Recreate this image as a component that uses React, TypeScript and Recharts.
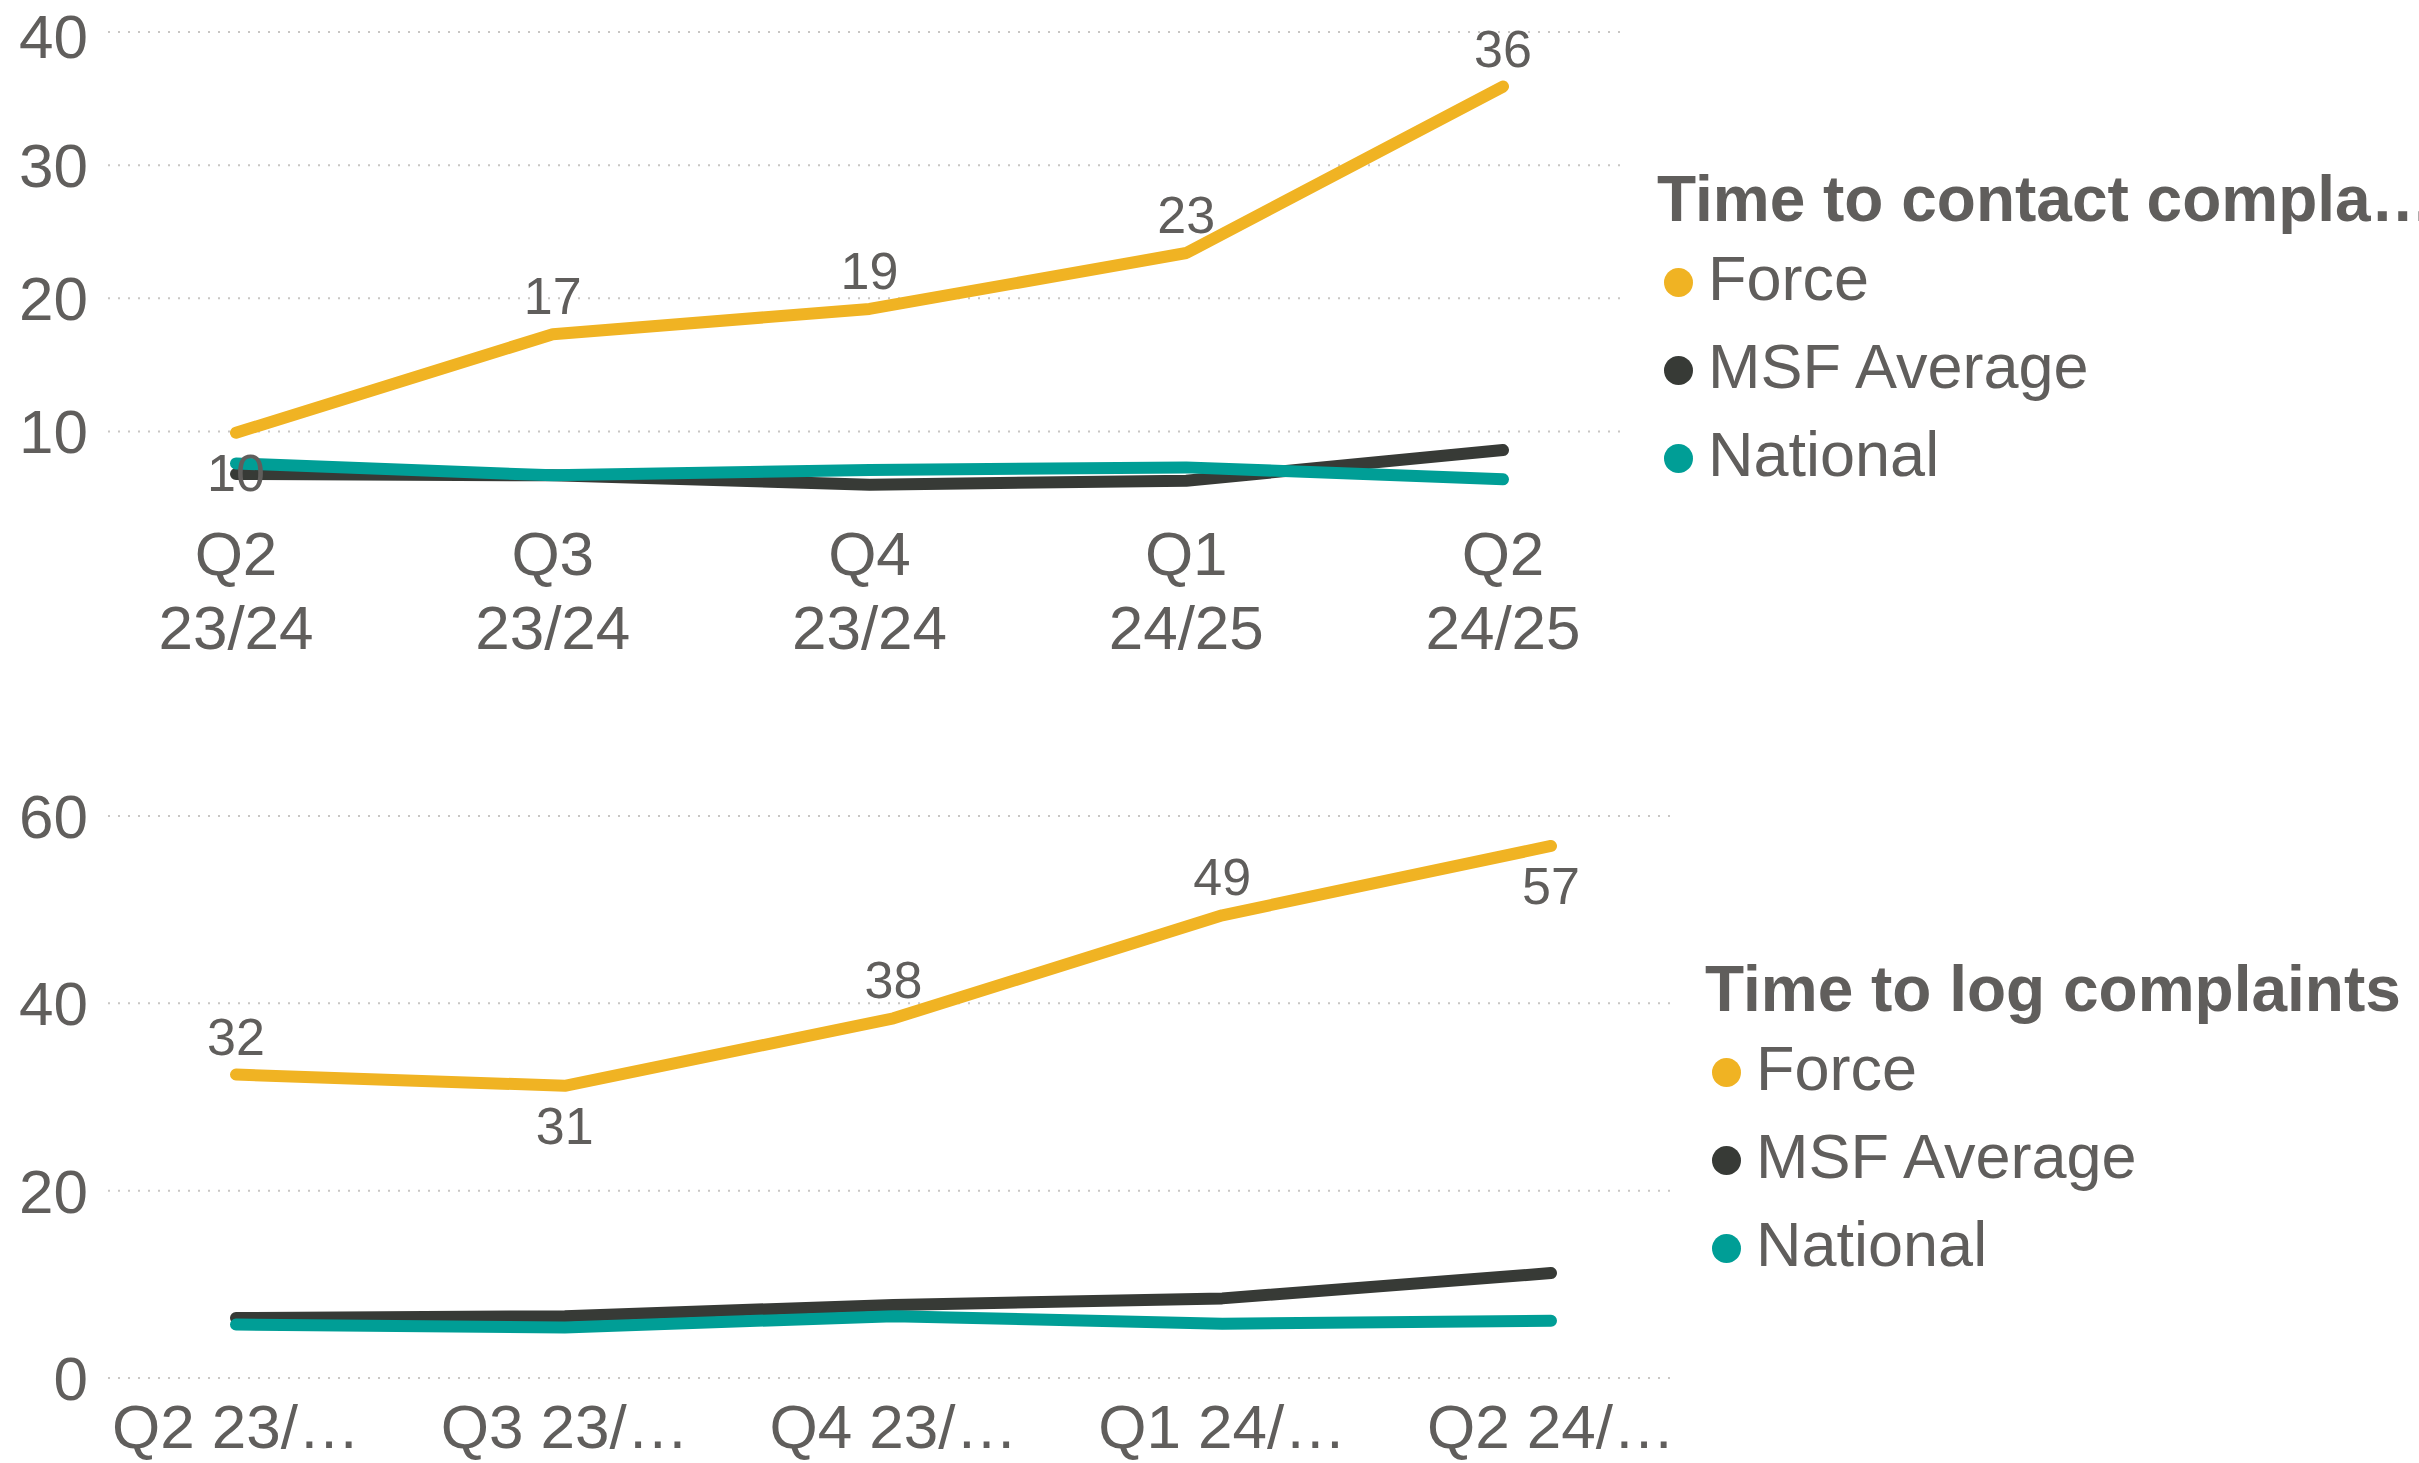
import { LineChart, Line, XAxis, YAxis, CartesianGrid, LabelList } from 'recharts';

const quarters = ['Q2 23/24', 'Q3 23/24', 'Q4 23/24', 'Q1 24/25', 'Q2 24/25'];
const seriesNames = ['Force', 'MSF Average', 'National'];

// Time to contact complainants (days)
const contactForce = [9.9, 17.3, 19.2, 23.4, 35.9];
const contactMsf = [6.8, 6.7, 6.0, 6.3, 8.6];
const contactNational = [7.6, 6.7, 7.1, 7.3, 6.4];
const contactTicks = [10, 20, 30, 40];

// Time to log complaints (days)
const logForce = [32.4, 31.2, 38.4, 49.4, 56.8];
const logMsf = [6.4, 6.6, 7.8, 8.5, 11.2];
const logNational = [5.7, 5.4, 6.6, 5.8, 6.1];
const logTicks = [0, 20, 40, 60];

// where each Force data label sits relative to its point
const contactLabelSide = ['below', 'above', 'above', 'above', 'above'];
const logLabelSide = ['above', 'below', 'above', 'above', 'below'];

const COLORS = { force: '#F0B323', msf: '#373A36', national: '#009E96' };
const TEXT = '#605E5C';
const FONT = '"Liberation Sans", Arial, sans-serif';

const contactData = quarters.map((q, i) => ({
  quarter: q,
  force: contactForce[i],
  msf: contactMsf[i],
  national: contactNational[i],
}));

const logData = quarters.map((q, i) => ({
  quarter: q,
  force: logForce[i],
  msf: logMsf[i],
  national: logNational[i],
}));

const makeLabel = (sides: string[]) => (props: any) => {
  const { x, y, value, index } = props;
  const dy = sides[index] === 'below' ? 40 : -38;
  return (
    <text
      x={x}
      y={y + dy}
      textAnchor="middle"
      dominantBaseline="central"
      fontSize={52}
      fontFamily={FONT}
      fill={TEXT}
    >
      {Math.round(value)}
    </text>
  );
};

const TwoLineTick = (props: any) => {
  const { x, y, payload } = props;
  const [q, yr] = String(payload.value).split(' ');
  return (
    <g>
      <text x={x} y={y + 69} textAnchor="middle" fontSize={62} fontFamily={FONT} fill={TEXT}>
        {q}
      </text>
      <text x={x} y={y + 143} textAnchor="middle" fontSize={62} fontFamily={FONT} fill={TEXT}>
        {yr}
      </text>
    </g>
  );
};

const TruncTick = (props: any) => {
  const { x, y, payload } = props;
  const label = String(payload.value);
  return (
    <text x={x} y={y + 62} textAnchor="middle" fontSize={62} fontFamily={FONT} fill={TEXT}>
      {label.slice(0, 6) + '…'}
    </text>
  );
};

function LegendBlock({ title, left, top }: { title: string; left: number; top: number }) {
  const colors = [COLORS.force, COLORS.msf, COLORS.national];
  return (
    <div style={{ position: 'absolute', left, top, fontFamily: FONT, color: TEXT, whiteSpace: 'nowrap' }}>
      <div style={{ fontSize: 64, fontWeight: 700, lineHeight: '78px', height: 74 }}>{title}</div>
      {seriesNames.map((name, i) => (
        <div key={name} style={{ display: 'flex', alignItems: 'center', height: 88, fontSize: 63 }}>
          <span
            style={{
              display: 'inline-block',
              width: 29,
              height: 29,
              borderRadius: '50%',
              background: colors[i],
              marginLeft: 7,
              marginRight: 15,
              marginTop: 8,
            }}
          />
          <span>{name}</span>
        </div>
      ))}
    </div>
  );
}

export default function App() {
  return (
    <div
      style={{
        position: 'absolute',
        left: 0,
        top: 0,
        width: 2419,
        height: 1463,
        background: '#fff',
        overflow: 'hidden',
      }}
    >
      <div style={{ position: 'absolute', left: 0, top: 0 }}>
        <LineChart width={1640} height={680} data={contactData} margin={{ top: 32, right: 18, bottom: 0, left: 0 }}>
          <CartesianGrid
            vertical={false}
            horizontalValues={contactTicks}
            stroke="#C8C6C4"
            strokeWidth={2}
            strokeDasharray="2 8"
          />
          <XAxis
            dataKey="quarter"
            axisLine={false}
            tickLine={false}
            height={182}
            padding={{ left: 128, right: 119 }}
            tick={<TwoLineTick />}
            interval={0}
          />
          <YAxis
            domain={[5, 40]}
            ticks={contactTicks}
            axisLine={false}
            tickLine={false}
            width={108}
            tickSize={0}
            tickMargin={20}
            tick={{ fontSize: 62, fill: TEXT, fontFamily: FONT }}
          />
          <Line dataKey="msf" stroke={COLORS.msf} strokeWidth={12} dot={false} strokeLinecap="round" strokeLinejoin="round" isAnimationActive={false} />
          <Line dataKey="national" stroke={COLORS.national} strokeWidth={12} dot={false} strokeLinecap="round" strokeLinejoin="round" isAnimationActive={false} />
          <Line dataKey="force" stroke={COLORS.force} strokeWidth={12} dot={false} strokeLinecap="round" strokeLinejoin="round" isAnimationActive={false}>
            <LabelList dataKey="force" content={makeLabel(contactLabelSide)} />
          </Line>
        </LineChart>
      </div>
      <LegendBlock title="Time to contact compla…" left={1657} top={160} />

      <div style={{ position: 'absolute', left: 0, top: 760 }}>
        <LineChart width={1690} height={703} data={logData} margin={{ top: 56, right: 18, bottom: 0, left: 0 }}>
          <CartesianGrid
            vertical={false}
            horizontalValues={logTicks}
            stroke="#C8C6C4"
            strokeWidth={2}
            strokeDasharray="2 8"
          />
          <XAxis
            dataKey="quarter"
            axisLine={false}
            tickLine={false}
            height={85}
            padding={{ left: 128, right: 121 }}
            tick={<TruncTick />}
            interval={0}
          />
          <YAxis
            domain={[0, 60]}
            ticks={logTicks}
            axisLine={false}
            tickLine={false}
            width={108}
            tickSize={0}
            tickMargin={20}
            tick={{ fontSize: 62, fill: TEXT, fontFamily: FONT }}
          />
          <Line dataKey="msf" stroke={COLORS.msf} strokeWidth={12} dot={false} strokeLinecap="round" strokeLinejoin="round" isAnimationActive={false} />
          <Line dataKey="national" stroke={COLORS.national} strokeWidth={12} dot={false} strokeLinecap="round" strokeLinejoin="round" isAnimationActive={false} />
          <Line dataKey="force" stroke={COLORS.force} strokeWidth={12} dot={false} strokeLinecap="round" strokeLinejoin="round" isAnimationActive={false}>
            <LabelList dataKey="force" content={makeLabel(logLabelSide)} />
          </Line>
        </LineChart>
      </div>
      <LegendBlock title="Time to log complaints" left={1705} top={950} />
    </div>
  );
}
